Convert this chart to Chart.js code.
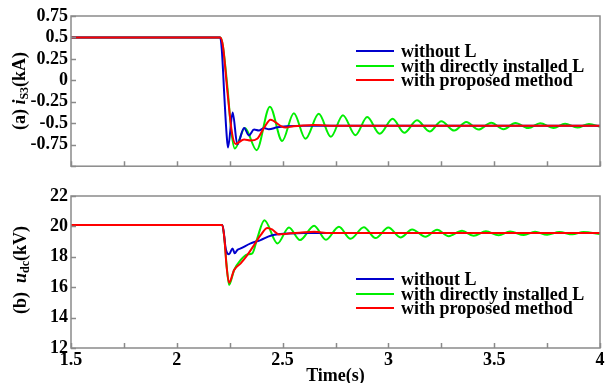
<!DOCTYPE html>
<html>
<head>
<meta charset="utf-8">
<script src="https://cdn.jsdelivr.net/npm/chart.js@4/dist/chart.umd.min.js"></script>
<style>
  html, body { margin: 0; padding: 0; background: #fff; }
  #wrap { position: relative; width: 608px; height: 383px; overflow: hidden; background: #fff; }
  canvas { position: absolute; left: 0; }
  #cA { top: 0; }
  #cB { top: 180px; }
  .ytitle { position: absolute; white-space: nowrap; font: bold 18px 'Liberation Serif', 'Times New Roman', serif; color: #000;
            transform: translate(-50%, -50%) rotate(-90deg); line-height: 18px; }
  .ytitle sub { font-size: 12px; vertical-align: -3px; line-height: 0; }
  .legend { position: absolute; left: 356px; font: bold 18px 'Liberation Serif', 'Times New Roman', serif; color: #000; }
  .legend .row { display: flex; align-items: center; height: 14.5px; line-height: 14.5px; white-space: nowrap; }
  .legend .sw { display: inline-block; width: 38px; height: 2px; margin-right: 7px; }
</style>
</head>
<body>
<div id="wrap">
  <canvas id="cA" width="608" height="180"></canvas>
  <canvas id="cB" width="608" height="203"></canvas>
  <div class="ytitle" style="left:19px; top:91px;">(a) <i>i</i><sub>S3</sub>(kA)</div>
  <div class="ytitle" style="left:20px; top:270px;">(b)&nbsp; <i>u</i><sub>dc</sub>(kV)</div>
  <div class="legend" id="legA" style="top:44px;"></div>
  <div class="legend" id="legB" style="top:272px;"></div>
</div>
<script>
// ---------------- data ----------------
const seriesNames = ['without L', 'with directly installed L', 'with proposed method'];
const seriesColors = ['#0000cd', '#00ee00', '#ff0000'];

const xTickValues = [1.5, 1.75, 2, 2.25, 2.5, 2.75, 3, 3.25, 3.5, 3.75, 4];
const xTickLabels = ['1.5', '', '2', '', '2.5', '', '3', '', '3.5', '', '4'];

const yTickValuesA = [-1, -0.75, -0.5, -0.25, 0, 0.25, 0.5, 0.75];
const yTickLabelsA = ['', '-0.75', '-0.5', '-0.25', '0', '0.25', '0.5', '0.75'];
const yTickValuesB = [12, 14, 16, 18, 20, 22];
const yTickLabelsB = ['12', '14', '16', '18', '20', '22'];

// Panel (a): i_S3 (kA)
const tBlueA = [1.5, 2.205, 2.213, 2.225, 2.236, 2.242, 2.264, 2.286, 2.318, 2.341, 2.365, 2.388, 2.412, 2.435, 2.475, 2.52, 2.6, 4.0];
const iBlueA = [0.5, 0.5, 0.35, -0.2, -0.65, -0.783, -0.374, -0.745, -0.554, -0.642, -0.573, -0.585, -0.554, -0.57, -0.546, -0.535, -0.53, -0.53];

const tGreenA = [1.5, 2.205, 2.218, 2.24, 2.258, 2.274, 2.322, 2.377, 2.44, 2.498, 2.553, 2.608, 2.671, 2.728, 2.785, 2.844, 2.9, 2.959, 3.02, 3.075, 3.135, 3.195, 3.25, 3.311, 3.368, 3.426, 3.486, 3.544, 3.6, 3.662, 3.717, 3.78, 3.835, 3.893, 3.948, 4.0];
const iGreenA = [0.5, 0.5, 0.4, -0.1, -0.6, -0.794, -0.554, -0.813, -0.306, -0.706, -0.382, -0.68, -0.39, -0.658, -0.405, -0.638, -0.428, -0.623, -0.447, -0.611, -0.466, -0.596, -0.477, -0.585, -0.485, -0.573, -0.493, -0.569, -0.497, -0.556, -0.5, -0.554, -0.506, -0.55, -0.508, -0.54];

const tRedA = [1.5, 2.205, 2.218, 2.24, 2.26, 2.278, 2.318, 2.349, 2.38, 2.412, 2.443, 2.49, 2.514, 2.55, 2.6, 2.65, 2.75, 4.0];
const iRedA = [0.5, 0.5, 0.4, -0.15, -0.6, -0.74, -0.688, -0.7, -0.68, -0.554, -0.459, -0.53, -0.55, -0.535, -0.525, -0.52, -0.53, -0.53];

// Panel (b): u_dc (kV)
const tBlueB = [1.5, 2.215, 2.222, 2.231, 2.247, 2.263, 2.274, 2.286, 2.302, 2.349, 2.396, 2.443, 2.49, 2.53, 2.6, 4.0];
const uBlueB = [20.1, 20.1, 19.6, 18.55, 18.16, 18.55, 18.23, 18.45, 18.55, 18.88, 19.1, 19.38, 19.5, 19.54, 19.56, 19.56];

const tGreenB = [1.5, 2.215, 2.225, 2.235, 2.247, 2.271, 2.302, 2.333, 2.357, 2.38, 2.414, 2.476, 2.53, 2.582, 2.649, 2.705, 2.766, 2.821, 2.884, 2.939, 3.0, 3.057, 3.112, 3.175, 3.23, 3.285, 3.348, 3.403, 3.461, 3.521, 3.575, 3.64, 3.693, 3.75, 3.808, 3.87, 3.922, 4.0];
const uGreenB = [20.1, 20.1, 19.2, 17.5, 16.15, 17.13, 17.79, 18.16, 18.23, 19.2, 20.41, 18.88, 19.93, 19.1, 20.05, 19.12, 19.97, 19.18, 19.95, 19.23, 19.93, 19.27, 19.8, 19.32, 19.78, 19.36, 19.71, 19.38, 19.68, 19.41, 19.67, 19.43, 19.65, 19.45, 19.63, 19.48, 19.63, 19.5];

const tRedB = [1.5, 2.215, 2.225, 2.235, 2.247, 2.271, 2.302, 2.333, 2.365, 2.396, 2.428, 2.45, 2.483, 2.52, 2.58, 2.65, 2.72, 4.0];
const uRedB = [20.1, 20.1, 19.2, 17.4, 16.3, 17.13, 17.57, 18.11, 18.77, 19.42, 19.9, 19.8, 19.47, 19.52, 19.58, 19.65, 19.56, 19.56];

// ---------------- helpers ----------------
const pts = (ts, vs) => ts.map((t, i) => ({x: t, y: vs[i]}));
const labelFor = (vals, labs) => (v) => {
  const i = vals.findIndex(t => Math.abs(t - v) < 1e-6);
  return i >= 0 ? labs[i] : '';
};

Chart.defaults.font.family = "'Liberation Serif', 'Times New Roman', serif";
Chart.defaults.font.weight = 'bold';
Chart.defaults.font.size = 18;
Chart.defaults.color = '#000';

const framePlugin = {
  id: 'frame',
  afterDatasetsDraw(chart, args, opts) {
    const {ctx, chartArea: a, scales} = chart;
    ctx.save();
    ctx.strokeStyle = '#8a8a8a';
    ctx.lineWidth = 1.5;
    ctx.beginPath();
    opts.xTicks.forEach(v => {
      const px = Math.round(scales.x.getPixelForValue(v)) + 0.5;
      ctx.moveTo(px, a.bottom); ctx.lineTo(px, a.bottom - 5);
    });
    opts.yTicks.forEach(v => {
      const py = Math.round(scales.y.getPixelForValue(v)) + 0.5;
      ctx.moveTo(a.left, py); ctx.lineTo(a.left + 5, py);
    });
    ctx.stroke();
    ctx.strokeRect(a.left, a.top, a.right - a.left, a.bottom - a.top);
    ctx.restore();
  }
};

function makeDatasets(list) {
  // list: [[t, v], ...] in order blue, green, red
  const order = [1, 2, 0];
  return list.map((p, k) => ({
    label: seriesNames[k],
    data: pts(p[0], p[1]),
    borderColor: seriesColors[k],
    backgroundColor: seriesColors[k],
    borderWidth: 2,
    pointRadius: 0,
    fill: false,
    cubicInterpolationMode: 'monotone',
    order: order[k]
  }));
}

function makeChart(id, datasets, yMin, yMax, yStep, yVals, yLabs, showX) {
  return new Chart(document.getElementById(id), {
    type: 'line',
    data: { datasets },
    options: {
      responsive: false,
      animation: false,
      devicePixelRatio: 1,
      layout: { padding: { top: 16, right: 8, left: 0, bottom: 0 } },
      plugins: {
        legend: { display: false },
        tooltip: { enabled: false },
        frame: { xTicks: xTickValues, yTicks: yVals }
      },
      scales: {
        x: {
          type: 'linear', min: 1.5, max: 4,
          grid: { display: false, drawTicks: false },
          border: { display: false },
          ticks: { display: showX, stepSize: 0.25, autoSkip: false, maxRotation: 0, padding: 2,
                   callback: labelFor(xTickValues, xTickLabels) },
          title: { display: showX, text: 'Time(s)', padding: { top: 0, bottom: 0 },
                   font: { size: 18, weight: 'bold', lineHeight: 0.75 } },
          afterFit: s => { s.height = showX ? 35 : 11; }
        },
        y: {
          type: 'linear', min: yMin, max: yMax,
          grid: { display: false, drawTicks: false },
          border: { display: false },
          ticks: { stepSize: yStep, autoSkip: false, padding: 3,
                   callback: labelFor(yVals, yLabs) },
          afterFit: s => { s.width = 71; }
        }
      }
    },
    plugins: [framePlugin]
  });
}

makeChart('cA', makeDatasets([[tBlueA, iBlueA], [tGreenA, iGreenA], [tRedA, iRedA]]),
          -1, 0.75, 0.25, yTickValuesA, yTickLabelsA, false);
makeChart('cB', makeDatasets([[tBlueB, uBlueB], [tGreenB, uGreenB], [tRedB, uRedB]]),
          12, 22, 2, yTickValuesB, yTickLabelsB, true);

// HTML legends
['legA', 'legB'].forEach(id => {
  const el = document.getElementById(id);
  seriesNames.forEach((n, k) => {
    const row = document.createElement('div');
    row.className = 'row';
    const sw = document.createElement('span');
    sw.className = 'sw';
    sw.style.background = seriesColors[k];
    const tx = document.createElement('span');
    tx.textContent = n;
    row.appendChild(sw); row.appendChild(tx);
    el.appendChild(row);
  });
});
</script>
</body>
</html>
